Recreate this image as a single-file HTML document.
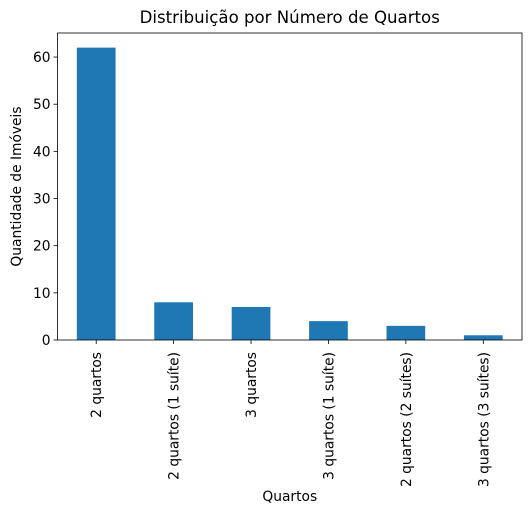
<!DOCTYPE html>
<html><head><meta charset="utf-8"><style>
body{margin:0;background:#fff}
svg{font-family:"DejaVu Sans","Liberation Sans",sans-serif}
</style></head><body>
<svg id="c" width="531" height="515"></svg>
<script>
const categories=["2 quartos","2 quartos (1 suíte)","3 quartos","3 quartos (1 suíte)","2 quartos (2 suítes)","3 quartos (3 suítes)"];
const values=[62,8,7,4,3,1];
const yTicks=[0,10,20,30,40,50,60];
const L=57.5,R=522,T=33,B=340,yMax=65.1;
const svg=document.getElementById('c');
const NS='http://www.w3.org/2000/svg';
function y(v){return B-(v/yMax)*(B-T);}
const step=(R-L)/categories.length;
function x(i){return L+step*(i+0.5);}
function mk(t,a){const e=document.createElementNS(NS,t);for(const k in a)e.setAttribute(k,a[k]);svg.appendChild(e);return e;}
values.forEach((v,i)=>{
 const r=mk('rect',{x:x(i)-step*0.25,y:y(v),width:step*0.5,height:B-y(v),fill:'#1f77b4'});
 
 
});
yTicks.forEach(t=>{
 mk('line',{x1:L-4,x2:L,y1:y(t),y2:y(t),stroke:'#000','stroke-width':0.8});
 const tx=mk('text',{x:L-7,y:y(t)+5,'text-anchor':'end','font-size':13.8});
 tx.textContent=t;
 
 
});
categories.forEach((c,i)=>{
 mk('line',{x1:x(i),x2:x(i),y1:B,y2:B+4,stroke:'#000','stroke-width':0.8});
 const tx=mk('text',{transform:`translate(${x(i)+5},${B+12}) rotate(-90)`,'text-anchor':'end','font-size':13.8});
 tx.textContent=c;
 
 
});
const fr=mk('rect',{x:L,y:T,width:R-L,height:B-T,fill:'none',stroke:'#000','stroke-width':0.8});


const ti=mk('text',{x:(L+R)/2,y:23,'text-anchor':'middle','font-size':16.6});
ti.textContent='Distribuição por Número de Quartos';


const xl=mk('text',{x:(L+R)/2,y:501,'text-anchor':'middle','font-size':13.8});
xl.textContent='Quartos';


const yl=mk('text',{transform:`translate(21,${(T+B)/2}) rotate(-90)`,'text-anchor':'middle','font-size':13.8});
yl.textContent='Quantidade de Imóveis';


</script>
</body></html>
